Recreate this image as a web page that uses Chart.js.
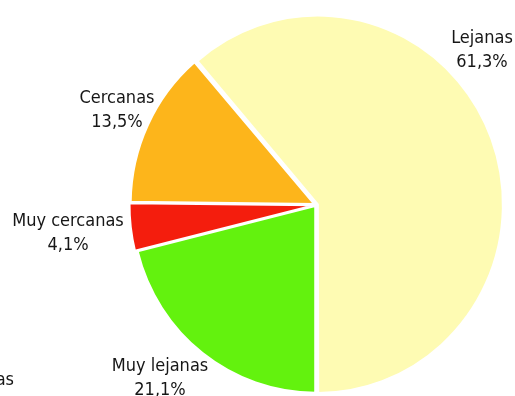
<!DOCTYPE html>
<html>
<head>
<meta charset="utf-8">
<script src="https://cdn.jsdelivr.net/npm/chart.js@4.4.1/dist/chart.umd.min.js"></script>
<style>
  html, body { margin: 0; padding: 0; background: #ffffff; overflow: hidden; }
  canvas { display: block; }
</style>
</head>
<body>
<canvas id="c" width="515" height="396"></canvas>
<script>
// ---- data ----
const categories = ["Lejanas", "Muy lejanas", "Muy cercanas", "Cercanas"];
const percentLabels = ["61,3%", "21,1%", "4,1%", "13,5%"];
const values = [61.3, 21.1, 4.1, 13.5];
const sliceColors = ["#FEFBB3", "#63F20E", "#F41D0D", "#FDB51B"];
const sliceOffsets = [8, 5, 8, 8];

// ---- label layout (text anchors, baseline of first line of each label) ----
const labelAnchors = [
  { x: 482, y: 43 },
  { x: 160, y: 371 },
  { x: 68,  y: 226 },
  { x: 117, y: 103 }
];
const FONT = '18px "Liberation Sans Narrow", "DejaVu Sans Condensed", Roboto, sans-serif';
const LINE_GAP = 24;
const VERTICAL_STRETCH = 1.02;

const piePlugin = {
  id: 'pieStyle',
  beforeDatasetsDraw(chart) {
    const ctx = chart.ctx;
    const a = chart.chartArea;
    const cx = (a.left + a.right) / 2, cy = (a.top + a.bottom) / 2;
    ctx.save();
    ctx.translate(cx, cy);
    ctx.scale(1, VERTICAL_STRETCH);
    ctx.translate(-cx, -cy);
  },
  afterDatasetsDraw(chart) {
    const ctx = chart.ctx;
    ctx.restore();
    ctx.save();
    ctx.font = FONT;
    ctx.fillStyle = '#161616';
    ctx.textAlign = 'center';
    ctx.textBaseline = 'alphabetic';
    categories.forEach((cat, i) => {
      const p = labelAnchors[i];
      ctx.fillText(cat, p.x, p.y);
      ctx.fillText(percentLabels[i], p.x, p.y + LINE_GAP);
    });
    // fragment of a neighbouring chart's label at the left edge
    ctx.textAlign = 'right';
    ctx.fillText('Lejanas', 14, 385);
    ctx.restore();
  }
};

// first slice starts so that "Lejanas" ends exactly at the bottom
const total = values.reduce((s, v) => s + v, 0);
const startRotation = 180 - values[0] / total * 360;

new Chart(document.getElementById('c'), {
  type: 'pie',
  data: {
    labels: categories,
    datasets: [{
      data: values,
      backgroundColor: sliceColors,
      borderColor: '#ffffff',
      borderWidth: 2,
      offset: sliceOffsets,
      clip: false
    }]
  },
  options: {
    responsive: false,
    animation: false,
    devicePixelRatio: 1,
    rotation: startRotation,
    radius: 183,
    layout: { padding: { left: 117, top: 14, right: 0, bottom: 0 } },
    plugins: {
      legend: { display: false },
      tooltip: { enabled: false }
    }
  },
  plugins: [piePlugin]
});
</script>
</body>
</html>
